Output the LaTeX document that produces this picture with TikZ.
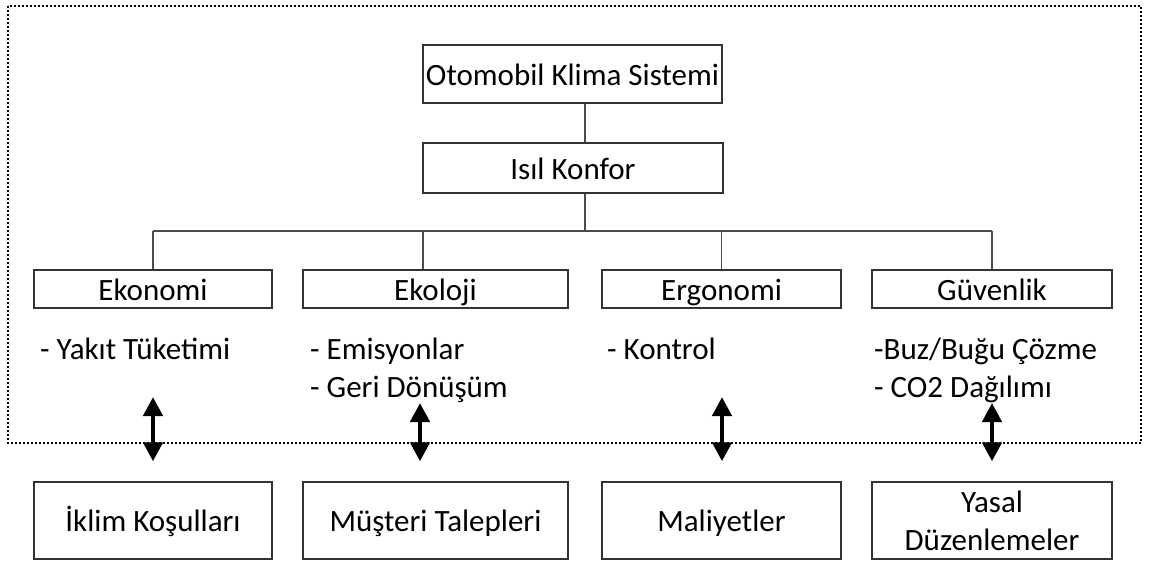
\documentclass[tikz,border=0pt]{standalone}
\usepackage{fontspec}
\setmainfont{Carlito}
\usepackage{tikz}
\usetikzlibrary{positioning}
\usetikzlibrary{arrows.meta}
\usetikzlibrary{math}

\begin{document}
\begin{tikzpicture}[x=1pt,y=-1pt,
    frame/.style={draw=black!80,line width=1.4pt,inner sep=0pt,font=\fontsize{31}{38}\selectfont},
    box/.style={frame,text height=23pt,text depth=1pt},
    link/.style={draw=black!70,line width=1.3pt},
    item/.style={inner sep=0pt,anchor=base west,align=left,font=\fontsize{31}{38}\selectfont},
    biarrow/.style={{Triangle[length=19pt,width=19pt]}-{Triangle[length=19pt,width=19pt]},line width=4.5pt,shorten >=20pt}]
      \tikzmath{
        \hTop = 58;
        \hCat = 38;
        \hLow = 77;
        \yCat = 289;
        \yLow = 520.5;
      }

      \useasboundingbox (0,0) rectangle (1152,560);

      % dotted system border
      \draw[black,line width=1.2pt,dash pattern=on 2pt off 2pt] (8,6) rectangle (1141,443);

      \node[box,minimum width=299pt,minimum height=\hTop] (oto) at (572.5,74) {Otomobil Klima Sistemi};
      \node[box,minimum width=300pt,minimum height=50pt] (isil) at (573,168) {Isıl Konfor};

      \node[box,minimum width=238pt,minimum height=\hCat] (eko) at (153,\yCat) {Ekonomi};
      \node[box,minimum width=265pt,minimum height=\hCat] (ekol) at (435.5,\yCat) {Ekoloji};
      \node[box,minimum width=239pt,minimum height=\hCat] (ergo) at (721.5,\yCat) {Ergonomi};
      \node[box,minimum width=240pt,minimum height=\hCat] (guv) at (992,\yCat) {Güvenlik};

      \coordinate (spine) at (585,231);
      \coordinate (ekolink) at (423,231);
      \draw[link] (spine |- oto.south) -- (spine |- isil.north);
      \draw[link] (spine |- isil.south) -- (spine);
      \draw[link] (eko.north |- spine) -- (guv.north |- spine);
      \draw[link] (eko.north |- spine) -- (eko.north);
      \draw[link] (ekolink) -- (ekolink |- ekol.north);
      \draw[link] (ergo.north |- spine) -- (ergo.north);
      \draw[link] (guv.north |- spine) -- (guv.north);

      % two-line lists sit on the baseline of their last line
      \node[item] (ekolist) at (40,359) {- Yakıt Tüketimi};
      \node[item] (ekollist) at (310,397) {- Emisyonlar\\- Geri Dönüşüm};
      \node[item] (ergolist) at (607,359) {- Kontrol};
      \node[item] (guvlist) at (874,397) {-Buz/Buğu Çözme\\- CO2 Dağılımı};

      \node[box,minimum width=238pt,minimum height=\hLow] (iklim) at (153,\yLow) {İklim Koşulları};
      \node[box,minimum width=265pt,minimum height=\hLow] (talep) at (435.5,\yLow) {Müşteri Talepleri};
      \node[box,minimum width=239pt,minimum height=\hLow] (maliyet) at (721.5,\yLow) {Maliyetler};
      \node[frame,align=center,minimum width=240pt,minimum height=\hLow] (yasal) at (992,\yLow) {Yasal\\Düzenlemeler};

      \coordinate (a1) at (153,397);
      \coordinate (a2) at (420,403);
      \coordinate (a3) at (722,397);
      \coordinate (a4) at (992,403);
      \draw[biarrow] (a1) -- (a1 |- iklim.north);
      \draw[biarrow] (a2) -- (a2 |- talep.north);
      \draw[biarrow] (a3) -- (a3 |- maliyet.north);
      \draw[biarrow] (a4) -- (a4 |- yasal.north);
\end{tikzpicture}
\end{document}
